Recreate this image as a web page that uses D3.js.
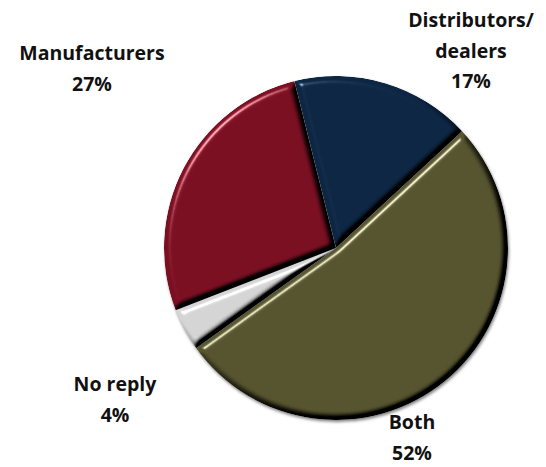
<!DOCTYPE html>
<html>
<head>
<meta charset="utf-8">
<script src="https://cdn.jsdelivr.net/npm/d3@7"></script>
<style>
  html, body { margin: 0; padding: 0; background: #fff; }
  svg { display: block; }
</style>
</head>
<body>
<svg id="chart" width="546" height="467"></svg>
<script>
// Survey answer shares, clockwise from the top
const categories = ["Distributors/\ndealers", "Both", "No reply", "Manufacturers"];
const values = [17, 52, 4, 27];
const colors = ["#0c2644", "#56542f", "#d4d4d4", "#7a0f22"];
// Label anchor points (x, y of first baseline)
const labelPos = [[471, 27], [412, 429], [115, 391], [92, 60]];

const W = 546, H = 467;
const cx = 336, cy = 248, R = 172;
const startDeg = -14;

const svg = d3.select("#chart");
const defs = svg.append("defs");

// Rounded bevel lighting for each slice: flat areas keep their colour,
// edges facing the upper-left light brighten, the others darken
const elev = 35;
const bevel = defs.append("filter").attr("id", "bevel")
  .attr("color-interpolation-filters", "sRGB")
  .attr("x", "-10%").attr("y", "-10%").attr("width", "120%").attr("height", "120%");
bevel.append("feGaussianBlur").attr("in", "SourceAlpha").attr("stdDeviation", 3.4).attr("result", "blur");
const diff = bevel.append("feDiffuseLighting").attr("in", "blur")
  .attr("surfaceScale", 6).attr("diffuseConstant", 1 / Math.sin(elev * Math.PI / 180))
  .attr("lighting-color", "#ffffff").attr("result", "diff");
diff.append("feDistantLight").attr("azimuth", 225).attr("elevation", elev);
const spec = bevel.append("feSpecularLighting").attr("in", "blur")
  .attr("surfaceScale", 6).attr("specularConstant", 1.0).attr("specularExponent", 40)
  .attr("lighting-color", "#ffffff").attr("result", "spec");
spec.append("feDistantLight").attr("azimuth", 225).attr("elevation", elev);
bevel.append("feComposite").attr("in", "SourceGraphic").attr("in2", "diff").attr("operator", "arithmetic")
  .attr("k1", 1).attr("k2", 0).attr("k3", 0).attr("k4", 0).attr("result", "lit");
bevel.append("feComposite").attr("in", "spec").attr("in2", "lit").attr("operator", "arithmetic")
  .attr("k1", 0).attr("k2", 0.65).attr("k3", 1).attr("k4", 0).attr("result", "withSpec");
bevel.append("feComposite").attr("in", "withSpec").attr("in2", "SourceAlpha").attr("operator", "in");

// Soft shadow under the whole pie
const shadow = defs.append("filter").attr("id", "shadow")
  .attr("color-interpolation-filters", "sRGB")
  .attr("x", "-20%").attr("y", "-20%").attr("width", "140%").attr("height", "140%");
shadow.append("feDropShadow").attr("dx", 1).attr("dy", 2).attr("stdDeviation", 1.5)
  .attr("flood-color", "#000").attr("flood-opacity", 0.5);

const pie = d3.pie().sort(null).value(d => d)
  .startAngle(startDeg * Math.PI / 180)
  .endAngle((startDeg + 360) * Math.PI / 180);
const arc = d3.arc().innerRadius(0).outerRadius(R);

const g = svg.append("g").attr("transform", `translate(${cx},${cy})`).attr("filter", "url(#shadow)");
g.selectAll("path.slice")
  .data(pie(values))
  .join("path")
  .attr("class", "slice")
  .attr("d", arc)
  .attr("fill", (d, i) => colors[i])
  .attr("filter", "url(#bevel)");

// Category labels with percentages
const fmt = v => v + "%";
const labels = svg.append("g")
  .attr("font-family", "'Open Sans', sans-serif")
  .attr("font-weight", "bold")
  .attr("font-size", 19.5)
  .attr("fill", "#111")
  .attr("text-anchor", "middle");
categories.forEach((c, i) => {
  const lines = c.split("\n").concat([fmt(values[i])]);
  const t = labels.append("text").attr("x", labelPos[i][0]).attr("y", labelPos[i][1]);
  lines.forEach((ln, j) => {
    t.append("tspan").attr("x", labelPos[i][0]).attr("dy", j === 0 ? 0 : 30.5).text(ln);
  });
});
</script>
</body>
</html>
